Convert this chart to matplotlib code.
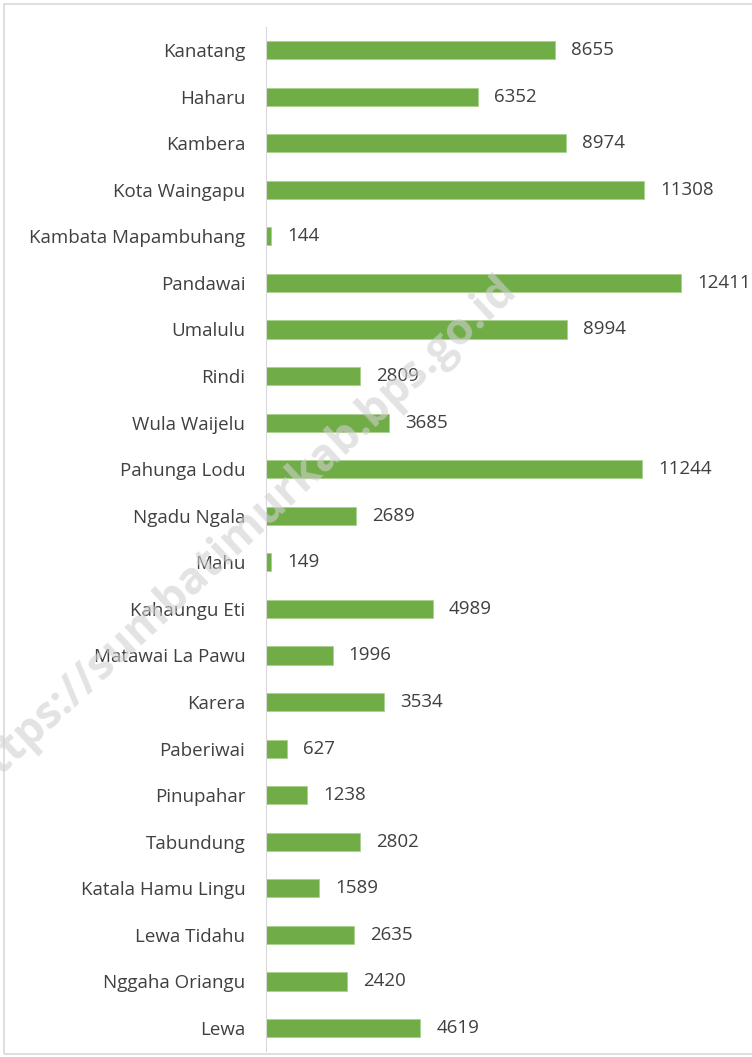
import matplotlib.pyplot as plt
from matplotlib.patches import Rectangle

# Kecamatan and values (top to bottom as shown)
kecamatan = ['Kanatang', 'Haharu', 'Kambera', 'Kota Waingapu', 'Kambata Mapambuhang',
             'Pandawai', 'Umalulu', 'Rindi', 'Wula Waijelu', 'Pahunga Lodu',
             'Ngadu Ngala', 'Mahu', 'Kahaungu Eti', 'Matawai La Pawu', 'Karera',
             'Paberiwai', 'Pinupahar', 'Tabundung', 'Katala Hamu Lingu', 'Lewa Tidahu',
             'Nggaha Oriangu', 'Lewa']
nilai = [8655, 6352, 8974, 11308, 144, 12411, 8994, 2809, 3685, 11244,
         2689, 149, 4989, 1996, 3534, 627, 1238, 2802, 1589, 2635, 2420, 4619]

plt.rcParams['font.family'] = ['Open Sans', 'DejaVu Sans']

fig = plt.figure(figsize=(7.52, 10.57), dpi=100)
ax = fig.add_axes([0.3537, 0.0054, 0.976 - 0.3537, 0.9747 - 0.0054])

y = list(range(len(kecamatan)))
ax.barh(y, nilai, height=0.39, color='#70AD47', edgecolor='#A9D18E', linewidth=0.6)
ax.set_ylim(len(kecamatan) - 0.5, -0.5)
ax.set_xlim(0, 14000)
ax.set_yticks(y)
ax.set_yticklabels(kecamatan, fontsize=13.5, color='#404040')
ax.tick_params(axis='y', length=0, pad=15)
ax.set_xticks([])

for yi, v in zip(y, nilai):
    ax.text(v + 480, yi, str(v), va='center', ha='left', fontsize=13.5,
            color='#404040')

for s in ['top', 'right', 'bottom']:
    ax.spines[s].set_visible(False)
ax.spines['left'].set_color('#D9D9D9')

# chart border
fig.patches.append(Rectangle((0.005, 0.003), 1.2, 0.993, transform=fig.transFigure,
                             fill=False, edgecolor='#D9D9D9', linewidth=1.2))

# watermark
fig.text(0.32, 0.495, 'https://sumbatimurkab.bps.go.id', rotation=43, fontsize=32,
         fontweight='bold', color='#D0D0D0', alpha=0.6, ha='center', va='center',
         rotation_mode='anchor')

fig.savefig('out.png', dpi=100)
